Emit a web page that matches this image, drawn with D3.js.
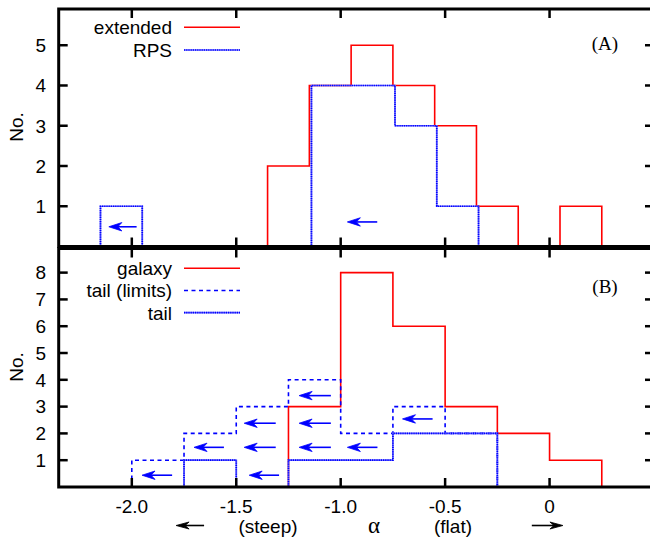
<!DOCTYPE html>
<html><head><meta charset="utf-8">
<script src="https://cdn.jsdelivr.net/npm/d3@7"></script>
<style>body{margin:0;background:#fff}svg{display:block}</style>
</head><body>
<script>
// ---- data ----
const xTicks = [-2.0, -1.5, -1.0, -0.5, 0];
const xTickLabels = ["-2.0", "-1.5", "-1.0", "-0.5", "0"];
const topYTicks = [1, 2, 3, 4, 5];
const botYTicks = [1, 2, 3, 4, 5, 6, 7, 8];

// Panel A
const extendedEdges = [-1.35, -1.15, -0.95, -0.75, -0.55, -0.35, -0.15, 0.05, 0.25];
const extendedCounts = [2, 4, 5, 4, 3, 1, 0, 1];
const rpsEdges = [-2.15, -1.95, -1.75, -1.55, -1.35, -1.14, -0.94, -0.74, -0.54, -0.34];
const rpsCounts = [1, 0, 0, 0, 0, 4, 4, 3, 1];
// upper-limit arrows: [head alpha, tail alpha, y]
const topArrows = [[-2.11, -1.977, 0.49], [-0.968, -0.825, 0.61]];

// Panel B
const galaxyEdges = [-1.25, -1.0, -0.75, -0.5, -0.25, 0, 0.25];
const galaxyCounts = [3, 8, 6, 3, 2, 1];
const tailLimEdges = [-2.0, -1.75, -1.5, -1.25, -1.0, -0.75, -0.5, -0.25];
const tailLimCounts = [1, 2, 3, 4, 2, 3, 2];
const tailEdges = [-1.75, -1.5, -1.25, -1.0, -0.75, -0.5, -0.25];
const tailCounts = [1, 0, 1, 1, 2, 2];
const botArrows = [
  [-1.951, -1.807, 0.44],
  [-1.702, -1.559, 1.48],
  [-1.438, -1.295, 0.44], [-1.462, -1.311, 1.48], [-1.462, -1.311, 2.38],
  [-1.199, -1.047, 1.48], [-1.199, -1.047, 2.38], [-1.199, -1.047, 3.41],
  [-0.968, -0.824, 1.48],
  [-0.704, -0.560, 2.54]
];
const topLegend = ["extended", "RPS"];
const botLegend = ["galaxy", "tail (limits)", "tail"];

// ---- drawing ----
const W = 650, H = 542;
const svg = d3.select("body").append("svg").attr("width", W).attr("height", H);
const FONT = "'Liberation Sans', Arial, Helvetica, sans-serif";
const SERIF = "'Liberation Serif', 'Times New Roman', serif";

const x = d3.scaleLinear().domain([-2.35, 0.5]).range([58.7, 654]);
const yTop = d3.scaleLinear().domain([0, 5.9]).range([246.5, 9]);
const yBot = d3.scaleLinear().domain([0, 8.9]).range([487, 248.5]);

const RED = "#ff0000", BLUE = "#0000ff";
const styles = {
  red: {stroke: RED, dash: null, w: 1.6},
  fine: {stroke: BLUE, dash: "1.2,1", w: 1.7, under: "#7070ff"},
  coarse: {stroke: BLUE, dash: "4,3.5", w: 1.6}
};

function histPath(edges, counts, y) {
  const pts = [[x(edges[0]), y(0)]];
  counts.forEach((c, i) => {
    pts.push([x(edges[i]), y(c)]);
    pts.push([x(edges[i + 1]), y(c)]);
  });
  pts.push([x(edges[edges.length - 1]), y(0)]);
  return d3.line()(pts);
}
function styled(sel, st) {
  return sel.attr("fill", "none").attr("stroke", st.stroke).attr("stroke-width", st.w)
    .attr("stroke-dasharray", st.dash).attr("stroke-linejoin", "miter");
}
function drawHist(g, edges, counts, y, st) {
  const d = histPath(edges, counts, y);
  if (st.under) g.append("path").attr("d", d).attr("fill", "none")
    .attr("stroke", st.under).attr("stroke-width", st.w);
  styled(g.append("path").attr("d", d), st);
}
function drawArrow(g, x0, x1, yy, color, L, Wd, notch) {
  const dir = x1 > x0 ? 1 : -1;
  g.append("line").attr("x1", x0 + dir * (L - notch)).attr("x2", x1)
    .attr("y1", yy).attr("y2", yy).attr("stroke", color).attr("stroke-width", 1.6);
  g.append("path").attr("d",
    `M${x0},${yy}L${x0 + dir * L},${yy - Wd}L${x0 + dir * (L - notch)},${yy}L${x0 + dir * L},${yy + Wd}Z`)
    .attr("fill", color).attr("stroke", color).attr("stroke-width", 0.8).attr("stroke-linejoin", "miter");
}
function frame(g, y, yTicks) {
  const x0 = x.range()[0], x1 = x.range()[1];
  const yb = y.range()[0], yt = y.range()[1];
  const tl = 9;
  xTicks.forEach(t => {
    g.append("line").attr("x1", x(t)).attr("x2", x(t)).attr("y1", yb).attr("y2", yb - tl)
      .attr("stroke", "#000").attr("stroke-width", 2.5);
    g.append("line").attr("x1", x(t)).attr("x2", x(t)).attr("y1", yt).attr("y2", yt + tl)
      .attr("stroke", "#000").attr("stroke-width", 2.5);
  });
  yTicks.forEach(t => {
    g.append("line").attr("x1", x0).attr("x2", x0 + tl).attr("y1", y(t)).attr("y2", y(t))
      .attr("stroke", "#000").attr("stroke-width", 2.5);
    g.append("line").attr("x1", x1).attr("x2", x1 - tl).attr("y1", y(t)).attr("y2", y(t))
      .attr("stroke", "#000").attr("stroke-width", 2.5);
    g.append("text").attr("x", 46).attr("y", y(t) + 6.8).attr("text-anchor", "end")
      .attr("font-family", FONT).attr("font-size", 19).text(String(t));
  });
  g.append("rect").attr("x", x0).attr("y", yt).attr("width", x1 - x0).attr("height", yb - yt)
    .attr("fill", "none").attr("stroke", "#000").attr("stroke-width", 3);
}
function legend(g, names, sts, y0, dy) {
  names.forEach((n, i) => {
    const yy = y0 + i * dy;
    g.append("text").attr("x", 172).attr("y", yy + 6.8).attr("text-anchor", "end")
      .attr("font-family", FONT).attr("font-size", 19).text(n);
    if (sts[i].under) g.append("line").attr("x1", 184).attr("x2", 240).attr("y1", yy).attr("y2", yy)
      .attr("stroke", sts[i].under).attr("stroke-width", sts[i].w);
    styled(g.append("line").attr("x1", 184).attr("x2", 240).attr("y1", yy).attr("y2", yy), sts[i]);
  });
}

// Panel A
const gA = svg.append("g");
drawHist(gA, extendedEdges, extendedCounts, yTop, styles.red);
drawHist(gA, rpsEdges, rpsCounts, yTop, styles.fine);
topArrows.forEach(a => drawArrow(gA, x(a[0]), x(a[1]), yTop(a[2]), BLUE, 13, 4.2, 4));
frame(gA, yTop, topYTicks);
legend(gA, topLegend, [styles.red, styles.fine], 27.3, 22.7);
gA.append("text").attr("x", 605).attr("y", 50).attr("text-anchor", "middle")
  .attr("font-family", SERIF).attr("font-size", 19).text("(A)");
gA.append("text").attr("transform", `translate(23,127) rotate(-90)`).attr("text-anchor", "middle")
  .attr("font-family", FONT).attr("font-size", 19).text("No.");

// Panel B
const gB = svg.append("g");
drawHist(gB, galaxyEdges, galaxyCounts, yBot, styles.red);
drawHist(gB, tailLimEdges, tailLimCounts, yBot, styles.coarse);
drawHist(gB, tailEdges, tailCounts, yBot, styles.fine);
botArrows.forEach(a => drawArrow(gB, x(a[0]), x(a[1]), yBot(a[2]), BLUE, 13, 4.2, 4));
frame(gB, yBot, botYTicks);
legend(gB, botLegend, [styles.red, styles.coarse, styles.fine], 268.3, 22.2);
gB.append("text").attr("x", 605).attr("y", 293).attr("text-anchor", "middle")
  .attr("font-family", SERIF).attr("font-size", 19).text("(B)");
gB.append("text").attr("transform", `translate(23,367) rotate(-90)`).attr("text-anchor", "middle")
  .attr("font-family", FONT).attr("font-size", 19).text("No.");

// x tick labels
xTicks.forEach((t, i) => {
  svg.append("text").attr("x", x(t)).attr("y", 513).attr("text-anchor", "middle")
    .attr("font-family", FONT).attr("font-size", 19).text(xTickLabels[i]);
});
// axis title
svg.append("text").attr("x", 374).attr("y", 533).attr("text-anchor", "middle")
  .attr("font-family", SERIF).attr("font-size", 23).text("α");
svg.append("text").attr("x", 268).attr("y", 533).attr("text-anchor", "middle")
  .attr("font-family", FONT).attr("font-size", 19).text("(steep)");
svg.append("text").attr("x", 453).attr("y", 533).attr("text-anchor", "middle")
  .attr("font-family", FONT).attr("font-size", 19).text("(flat)");
// direction arrows: [head alpha, tail alpha]
const dirArrows = [[-1.788, -1.654], [0.064, -0.085]];
dirArrows.forEach(a => drawArrow(svg, x(a[0]), x(a[1]), 525.5, "#000", 13, 3.5, 4));
</script>
</body></html>
